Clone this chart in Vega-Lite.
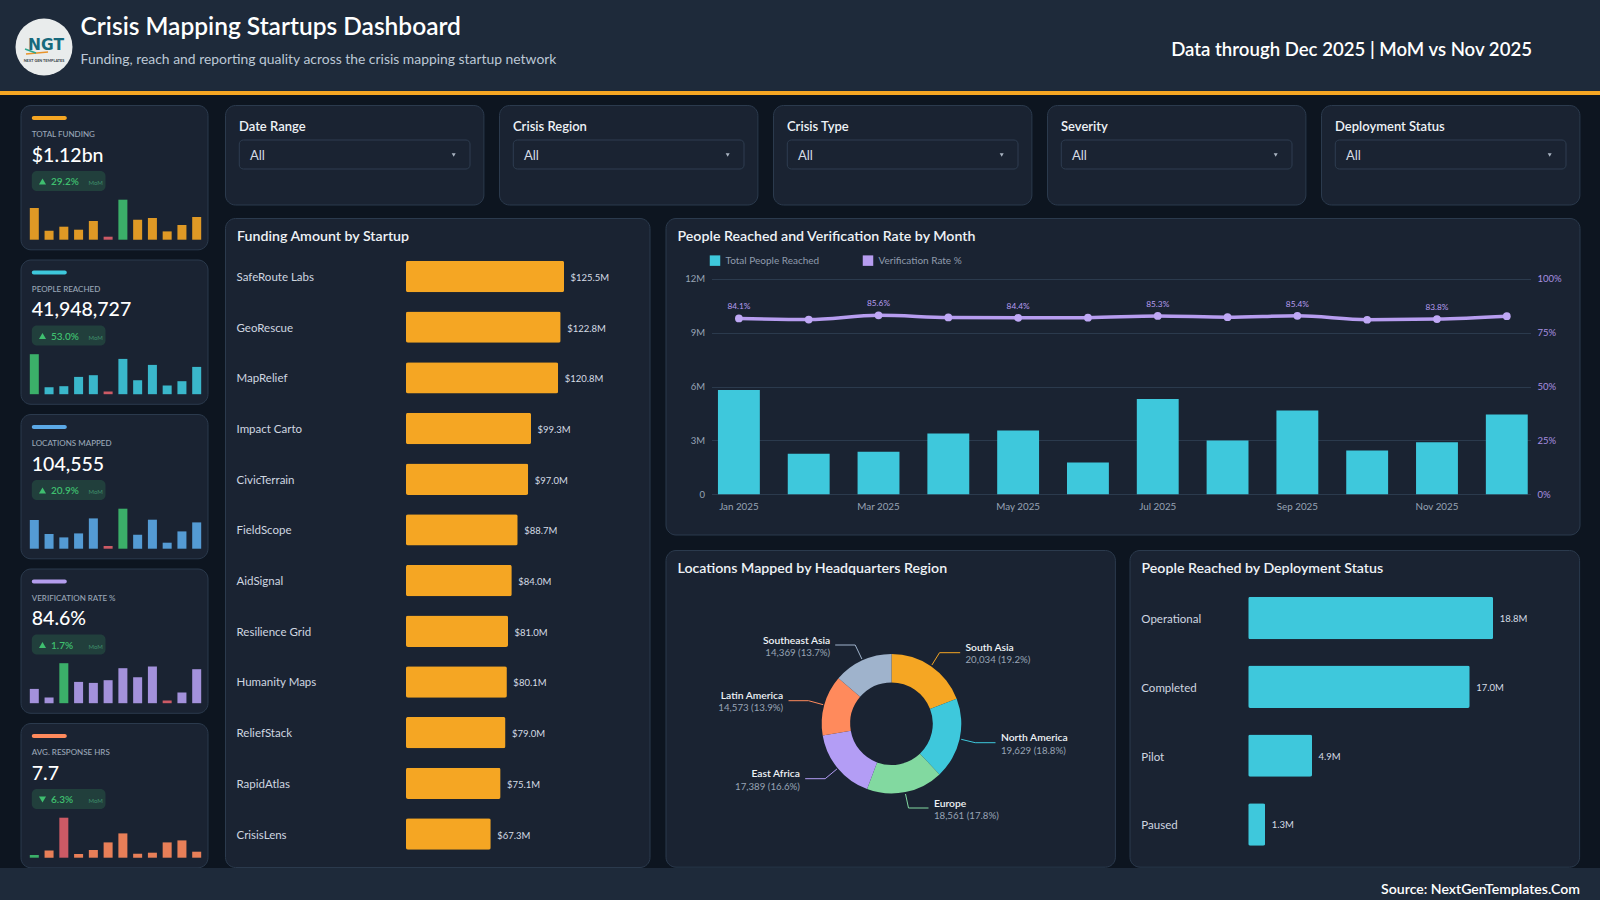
{"$schema":"https://vega.github.io/schema/vega-lite/v6.json","background":"#0d1520","padding":0,"spacing":0,"resolve":{"scale":{"color":"independent"}},
"config":{"font":"Lato","view":{"stroke":null},"title":{"anchor":"start","frame":"group","baseline":"middle","color":"#eef2f6","fontWeight":600,"fontSize":14.2},"axis":{"labelFont":"Lato"}},
"vconcat":[
{"width":1600,"height":91,"view":{"fill":"#1e2a3a"},
 "title":{"text":"Crisis Mapping Startups Dashboard","subtitle":"Funding, reach and reporting quality across the crisis mapping startup network","offset":-68,"dx":80.6,"fontSize":24.5,"color":"#ffffff","subtitleColor":"#bcc8d6","subtitleFontSize":13.9,"subtitleFont":"Lato","subtitlePadding":13},
 "data":{"values":[{"asOf":"Data through Dec 2025 | MoM vs Nov 2025","logo":"NGT","logoSub":"NEXT GEN TEMPLATES"}]},
 "layer":[
  {"mark":{"type":"point","filled":true,"opacity":1,"color":"#e9ecec","size":3249},"encoding":{"x":{"datum":44,"type":"quantitative","scale":{"domain":[0,1600],"range":[0,1600],"nice":false},"axis":null},"y":{"datum":47,"type":"quantitative","scale":{"domain":[0,91],"range":[0,91],"nice":false},"axis":null}}},
  {"mark":{"type":"rule","color":"#e8932a","strokeWidth":1.5},"encoding":{"x":{"datum":26},"x2":{"datum":48},"y":{"datum":54},"y2":{"datum":52}}},
  {"mark":{"type":"rule","color":"#2fa58c","strokeWidth":1.5},"encoding":{"x":{"datum":25},"x2":{"datum":36},"y":{"datum":49},"y2":{"datum":53}}},
  {"mark":{"type":"text","font":"DejaVu Sans","fontWeight":"bold","fontSize":15.5,"color":"#17697c","align":"center","baseline":"middle"},"encoding":{"x":{"datum":46},"y":{"datum":45},"text":{"field":"logo"}}},
  {"mark":{"type":"text","fontWeight":"bold","fontSize":3.8,"color":"#333d45","align":"center","baseline":"middle"},"encoding":{"x":{"datum":44},"y":{"datum":60.5},"text":{"field":"logoSub"}}},
  {"mark":{"type":"text","fontWeight":600,"fontSize":18.6,"color":"#ffffff","align":"right","baseline":"middle"},"encoding":{"x":{"datum":1532},"y":{"datum":50},"text":{"field":"asOf"}}}
 ]},
{"width":1600,"height":4,"view":{"fill":"#f5a623"},"data":{"values":[{}]},"mark":{"type":"point","opacity":0,"size":0}},
{"width":1600,"height":9,"data":{"values":[{}]},"mark":{"type":"point","opacity":0,"size":0}},
{"spacing":15.5,"resolve":{"scale":{"color":"independent"}},"hconcat":[
 {"width":3.5,"height":10,"data":{"values":[{}]},"mark":{"type":"point","opacity":0,"size":0}},
 {"bounds":"flush","spacing":9.5,"resolve":{"scale":{"color":"independent"}},"vconcat":[
  {"width":187,"height":144.3,"view":{"fill":"#1a2332","stroke":"#2b3a4d","cornerRadius":10},
   "title":{"text":"TOTAL FUNDING","offset":-34,"dx":11.3,"fontSize":8,"fontWeight":500,"color":"#9aa7b8"},
   "layer":[
    {"data":{"values":[{"month":"Jan","value":31.7,"flag":"normal"},{"month":"Feb","value":9,"flag":"normal"},{"month":"Mar","value":13,"flag":"normal"},{"month":"Apr","value":10,"flag":"normal"},{"month":"May","value":18.7,"flag":"normal"},{"month":"Jun","value":3,"flag":"low"},{"month":"Jul","value":40,"flag":"high"},{"month":"Aug","value":20,"flag":"normal"},{"month":"Sep","value":21.7,"flag":"normal"},{"month":"Oct","value":8.3,"flag":"normal"},{"month":"Nov","value":14.7,"flag":"normal"},{"month":"Dec","value":22.7,"flag":"normal"}]},
     "mark":{"type":"bar","opacity":0.9},"encoding":{"x":{"field":"month","type":"nominal","sort":null,"axis":null,"scale":{"range":[9.3,180.7],"paddingInner":0.39,"paddingOuter":0}},"y":{"field":"value","type":"quantitative","axis":null,"scale":{"domain":[0,40],"range":[134.7,94.7],"nice":false}},"color":{"field":"flag","type":"nominal","legend":null,"scale":{"domain":["normal","high","low"],"range":["#f5a623","#3fbf6f","#e0606a"]}}}},
    {"data":{"values":[{"value":"$1.12bn","delta":"29.2%","mom":"MoM"}]},"layer":[
     {"mark":{"type":"rect","color":"#f5a623","cornerRadius":2},"encoding":{"x":{"datum":11.3,"type":"quantitative","axis":null,"scale":{"domain":[0,187],"range":[0,187],"nice":false}},"x2":{"datum":46.3},"y":{"datum":11,"type":"quantitative","axis":null,"scale":{"domain":[0,144.3],"range":[0,144.3],"nice":false}},"y2":{"datum":15}}},
     {"mark":{"type":"rect","color":"#213f3c","cornerRadius":5},"encoding":{"x":{"datum":11.3},"x2":{"datum":85},"y":{"datum":66},"y2":{"datum":86}}},
     {"mark":{"type":"point","shape":"triangle-up","filled":true,"opacity":1,"color":"#3fbf6f","size":50},"encoding":{"x":{"datum":22},"y":{"datum":76.5}}},
     {"mark":{"type":"text","fontSize":19.5,"fontWeight":500,"color":"#ffffff","align":"left","baseline":"middle"},"encoding":{"x":{"datum":11.3},"y":{"datum":50.7},"text":{"field":"value"}}},
     {"mark":{"type":"text","fontSize":10,"fontWeight":600,"color":"#3fbf6f","align":"left","baseline":"middle"},"encoding":{"x":{"datum":30.5},"y":{"datum":77},"text":{"field":"delta"}}},
     {"mark":{"type":"text","fontSize":6,"color":"#3f8f6b","align":"left","baseline":"middle"},"encoding":{"x":{"datum":68},"y":{"datum":78},"text":{"field":"mom"}}}
    ]}
   ],"resolve":{"scale":{"x":"independent","y":"independent"}}},
  {"width":187,"height":144.3,"view":{"fill":"#1a2332","stroke":"#2b3a4d","cornerRadius":10},
   "title":{"text":"PEOPLE REACHED","offset":-34,"dx":11.3,"fontSize":8,"fontWeight":500,"color":"#9aa7b8"},
   "layer":[
    {"data":{"values":[{"month":"Jan","value":40,"flag":"high"},{"month":"Feb","value":7,"flag":"normal"},{"month":"Mar","value":8,"flag":"normal"},{"month":"Apr","value":17.3,"flag":"normal"},{"month":"May","value":19,"flag":"normal"},{"month":"Jun","value":2.7,"flag":"low"},{"month":"Jul","value":35.3,"flag":"normal"},{"month":"Aug","value":14,"flag":"normal"},{"month":"Sep","value":29.3,"flag":"normal"},{"month":"Oct","value":8.7,"flag":"normal"},{"month":"Nov","value":13,"flag":"normal"},{"month":"Dec","value":27.3,"flag":"normal"}]},
     "mark":{"type":"bar","opacity":0.9},"encoding":{"x":{"field":"month","type":"nominal","sort":null,"axis":null,"scale":{"range":[9.3,180.7],"paddingInner":0.39,"paddingOuter":0}},"y":{"field":"value","type":"quantitative","axis":null,"scale":{"domain":[0,40],"range":[134.7,94.7],"nice":false}},"color":{"field":"flag","type":"nominal","legend":null,"scale":{"domain":["normal","high","low"],"range":["#3ec8dc","#3fbf6f","#e0606a"]}}}},
    {"data":{"values":[{"value":"41,948,727","delta":"53.0%","mom":"MoM"}]},"layer":[
     {"mark":{"type":"rect","color":"#3ec8dc","cornerRadius":2},"encoding":{"x":{"datum":11.3,"type":"quantitative","axis":null,"scale":{"domain":[0,187],"range":[0,187],"nice":false}},"x2":{"datum":46.3},"y":{"datum":11,"type":"quantitative","axis":null,"scale":{"domain":[0,144.3],"range":[0,144.3],"nice":false}},"y2":{"datum":15}}},
     {"mark":{"type":"rect","color":"#213f3c","cornerRadius":5},"encoding":{"x":{"datum":11.3},"x2":{"datum":85},"y":{"datum":66},"y2":{"datum":86}}},
     {"mark":{"type":"point","shape":"triangle-up","filled":true,"opacity":1,"color":"#3fbf6f","size":50},"encoding":{"x":{"datum":22},"y":{"datum":76.5}}},
     {"mark":{"type":"text","fontSize":19.5,"fontWeight":500,"color":"#ffffff","align":"left","baseline":"middle"},"encoding":{"x":{"datum":11.3},"y":{"datum":50.7},"text":{"field":"value"}}},
     {"mark":{"type":"text","fontSize":10,"fontWeight":600,"color":"#3fbf6f","align":"left","baseline":"middle"},"encoding":{"x":{"datum":30.5},"y":{"datum":77},"text":{"field":"delta"}}},
     {"mark":{"type":"text","fontSize":6,"color":"#3f8f6b","align":"left","baseline":"middle"},"encoding":{"x":{"datum":68},"y":{"datum":78},"text":{"field":"mom"}}}
    ]}
   ],"resolve":{"scale":{"x":"independent","y":"independent"}}},
  {"width":187,"height":144.3,"view":{"fill":"#1a2332","stroke":"#2b3a4d","cornerRadius":10},
   "title":{"text":"LOCATIONS MAPPED","offset":-34,"dx":11.3,"fontSize":8,"fontWeight":500,"color":"#9aa7b8"},
   "layer":[
    {"data":{"values":[{"month":"Jan","value":28.7,"flag":"normal"},{"month":"Feb","value":14.7,"flag":"normal"},{"month":"Mar","value":11.3,"flag":"normal"},{"month":"Apr","value":15.3,"flag":"normal"},{"month":"May","value":30.3,"flag":"normal"},{"month":"Jun","value":2.7,"flag":"low"},{"month":"Jul","value":40,"flag":"high"},{"month":"Aug","value":14,"flag":"normal"},{"month":"Sep","value":29,"flag":"normal"},{"month":"Oct","value":6,"flag":"normal"},{"month":"Nov","value":17.3,"flag":"normal"},{"month":"Dec","value":26.3,"flag":"normal"}]},
     "mark":{"type":"bar","opacity":0.9},"encoding":{"x":{"field":"month","type":"nominal","sort":null,"axis":null,"scale":{"range":[9.3,180.7],"paddingInner":0.39,"paddingOuter":0}},"y":{"field":"value","type":"quantitative","axis":null,"scale":{"domain":[0,40],"range":[134.7,94.7],"nice":false}},"color":{"field":"flag","type":"nominal","legend":null,"scale":{"domain":["normal","high","low"],"range":["#5ba8e6","#3fbf6f","#e0606a"]}}}},
    {"data":{"values":[{"value":"104,555","delta":"20.9%","mom":"MoM"}]},"layer":[
     {"mark":{"type":"rect","color":"#5ba8e6","cornerRadius":2},"encoding":{"x":{"datum":11.3,"type":"quantitative","axis":null,"scale":{"domain":[0,187],"range":[0,187],"nice":false}},"x2":{"datum":46.3},"y":{"datum":11,"type":"quantitative","axis":null,"scale":{"domain":[0,144.3],"range":[0,144.3],"nice":false}},"y2":{"datum":15}}},
     {"mark":{"type":"rect","color":"#213f3c","cornerRadius":5},"encoding":{"x":{"datum":11.3},"x2":{"datum":85},"y":{"datum":66},"y2":{"datum":86}}},
     {"mark":{"type":"point","shape":"triangle-up","filled":true,"opacity":1,"color":"#3fbf6f","size":50},"encoding":{"x":{"datum":22},"y":{"datum":76.5}}},
     {"mark":{"type":"text","fontSize":19.5,"fontWeight":500,"color":"#ffffff","align":"left","baseline":"middle"},"encoding":{"x":{"datum":11.3},"y":{"datum":50.7},"text":{"field":"value"}}},
     {"mark":{"type":"text","fontSize":10,"fontWeight":600,"color":"#3fbf6f","align":"left","baseline":"middle"},"encoding":{"x":{"datum":30.5},"y":{"datum":77},"text":{"field":"delta"}}},
     {"mark":{"type":"text","fontSize":6,"color":"#3f8f6b","align":"left","baseline":"middle"},"encoding":{"x":{"datum":68},"y":{"datum":78},"text":{"field":"mom"}}}
    ]}
   ],"resolve":{"scale":{"x":"independent","y":"independent"}}},
  {"width":187,"height":144.3,"view":{"fill":"#1a2332","stroke":"#2b3a4d","cornerRadius":10},
   "title":{"text":"VERIFICATION RATE %","offset":-34,"dx":11.3,"fontSize":8,"fontWeight":500,"color":"#9aa7b8"},
   "layer":[
    {"data":{"values":[{"month":"Jan","value":14.3,"flag":"normal"},{"month":"Feb","value":5.7,"flag":"normal"},{"month":"Mar","value":40,"flag":"high"},{"month":"Apr","value":21.3,"flag":"normal"},{"month":"May","value":20.3,"flag":"normal"},{"month":"Jun","value":23,"flag":"normal"},{"month":"Jul","value":35,"flag":"normal"},{"month":"Aug","value":26,"flag":"normal"},{"month":"Sep","value":36.7,"flag":"normal"},{"month":"Oct","value":2.7,"flag":"low"},{"month":"Nov","value":10.7,"flag":"normal"},{"month":"Dec","value":34,"flag":"normal"}]},
     "mark":{"type":"bar","opacity":0.9},"encoding":{"x":{"field":"month","type":"nominal","sort":null,"axis":null,"scale":{"range":[9.3,180.7],"paddingInner":0.39,"paddingOuter":0}},"y":{"field":"value","type":"quantitative","axis":null,"scale":{"domain":[0,40],"range":[134.7,94.7],"nice":false}},"color":{"field":"flag","type":"nominal","legend":null,"scale":{"domain":["normal","high","low"],"range":["#b39ded","#3fbf6f","#e0606a"]}}}},
    {"data":{"values":[{"value":"84.6%","delta":"1.7%","mom":"MoM"}]},"layer":[
     {"mark":{"type":"rect","color":"#b39ded","cornerRadius":2},"encoding":{"x":{"datum":11.3,"type":"quantitative","axis":null,"scale":{"domain":[0,187],"range":[0,187],"nice":false}},"x2":{"datum":46.3},"y":{"datum":11,"type":"quantitative","axis":null,"scale":{"domain":[0,144.3],"range":[0,144.3],"nice":false}},"y2":{"datum":15}}},
     {"mark":{"type":"rect","color":"#213f3c","cornerRadius":5},"encoding":{"x":{"datum":11.3},"x2":{"datum":85},"y":{"datum":66},"y2":{"datum":86}}},
     {"mark":{"type":"point","shape":"triangle-up","filled":true,"opacity":1,"color":"#3fbf6f","size":50},"encoding":{"x":{"datum":22},"y":{"datum":76.5}}},
     {"mark":{"type":"text","fontSize":19.5,"fontWeight":500,"color":"#ffffff","align":"left","baseline":"middle"},"encoding":{"x":{"datum":11.3},"y":{"datum":50.7},"text":{"field":"value"}}},
     {"mark":{"type":"text","fontSize":10,"fontWeight":600,"color":"#3fbf6f","align":"left","baseline":"middle"},"encoding":{"x":{"datum":30.5},"y":{"datum":77},"text":{"field":"delta"}}},
     {"mark":{"type":"text","fontSize":6,"color":"#3f8f6b","align":"left","baseline":"middle"},"encoding":{"x":{"datum":68},"y":{"datum":78},"text":{"field":"mom"}}}
    ]}
   ],"resolve":{"scale":{"x":"independent","y":"independent"}}},
  {"width":187,"height":144.3,"view":{"fill":"#1a2332","stroke":"#2b3a4d","cornerRadius":10},
   "title":{"text":"AVG. RESPONSE HRS","offset":-34,"dx":11.3,"fontSize":8,"fontWeight":500,"color":"#9aa7b8"},
   "layer":[
    {"data":{"values":[{"month":"Jan","value":2.7,"flag":"high"},{"month":"Feb","value":7.3,"flag":"normal"},{"month":"Mar","value":40,"flag":"low"},{"month":"Apr","value":3.7,"flag":"normal"},{"month":"May","value":7.7,"flag":"normal"},{"month":"Jun","value":15.3,"flag":"normal"},{"month":"Jul","value":24.3,"flag":"normal"},{"month":"Aug","value":4,"flag":"normal"},{"month":"Sep","value":5,"flag":"normal"},{"month":"Oct","value":15.3,"flag":"normal"},{"month":"Nov","value":17.3,"flag":"normal"},{"month":"Dec","value":6,"flag":"normal"}]},
     "mark":{"type":"bar","opacity":0.9},"encoding":{"x":{"field":"month","type":"nominal","sort":null,"axis":null,"scale":{"range":[9.3,180.7],"paddingInner":0.39,"paddingOuter":0}},"y":{"field":"value","type":"quantitative","axis":null,"scale":{"domain":[0,40],"range":[134.7,94.7],"nice":false}},"color":{"field":"flag","type":"nominal","legend":null,"scale":{"domain":["normal","high","low"],"range":["#ff8a5c","#3fbf6f","#e0606a"]}}}},
    {"data":{"values":[{"value":"7.7","delta":"6.3%","mom":"MoM"}]},"layer":[
     {"mark":{"type":"rect","color":"#ff8a5c","cornerRadius":2},"encoding":{"x":{"datum":11.3,"type":"quantitative","axis":null,"scale":{"domain":[0,187],"range":[0,187],"nice":false}},"x2":{"datum":46.3},"y":{"datum":11,"type":"quantitative","axis":null,"scale":{"domain":[0,144.3],"range":[0,144.3],"nice":false}},"y2":{"datum":15}}},
     {"mark":{"type":"rect","color":"#213f3c","cornerRadius":5},"encoding":{"x":{"datum":11.3},"x2":{"datum":85},"y":{"datum":66},"y2":{"datum":86}}},
     {"mark":{"type":"point","shape":"triangle-down","filled":true,"opacity":1,"color":"#3fbf6f","size":50},"encoding":{"x":{"datum":22},"y":{"datum":76.5}}},
     {"mark":{"type":"text","fontSize":19.5,"fontWeight":500,"color":"#ffffff","align":"left","baseline":"middle"},"encoding":{"x":{"datum":11.3},"y":{"datum":50.7},"text":{"field":"value"}}},
     {"mark":{"type":"text","fontSize":10,"fontWeight":600,"color":"#3fbf6f","align":"left","baseline":"middle"},"encoding":{"x":{"datum":30.5},"y":{"datum":77},"text":{"field":"delta"}}},
     {"mark":{"type":"text","fontSize":6,"color":"#3f8f6b","align":"left","baseline":"middle"},"encoding":{"x":{"datum":68},"y":{"datum":78},"text":{"field":"mom"}}}
    ]}
   ],"resolve":{"scale":{"x":"independent","y":"independent"}}}
 ]},
 {"spacing":12,"resolve":{"scale":{"color":"independent"}},"vconcat":[
  {"bounds":"flush","spacing":15,"hconcat":[
   {"width":258.4,"height":99.5,"view":{"fill":"#1a2332","stroke":"#2b3a4d","cornerRadius":10},"title":{"text":"Date Range","offset":-29,"dx":14,"fontSize":13},"data":{"values":[{"selected":"All"}]},"layer":[
    {"mark":{"type":"rect","fill":"#1a2332","stroke":"#2e3d50","cornerRadius":4},"encoding":{"x":{"datum":14.3,"type":"quantitative","axis":null,"scale":{"domain":[0,258.4],"range":[0,258.4],"nice":false}},"x2":{"datum":245},"y":{"datum":35,"type":"quantitative","axis":null,"scale":{"domain":[0,99.5],"range":[0,99.5],"nice":false}},"y2":{"datum":64}}},
    {"mark":{"type":"text","fontSize":13,"color":"#d5dce5","align":"left","baseline":"middle"},"encoding":{"x":{"datum":25},"y":{"datum":51},"text":{"field":"selected"}}},
    {"mark":{"type":"point","shape":"triangle-down","filled":true,"opacity":1,"color":"#aab4c2","size":16},"encoding":{"x":{"datum":228.7},"y":{"datum":50}}}]},
   {"width":258.4,"height":99.5,"view":{"fill":"#1a2332","stroke":"#2b3a4d","cornerRadius":10},"title":{"text":"Crisis Region","offset":-29,"dx":14,"fontSize":13},"data":{"values":[{"selected":"All"}]},"layer":[
    {"mark":{"type":"rect","fill":"#1a2332","stroke":"#2e3d50","cornerRadius":4},"encoding":{"x":{"datum":14.3,"type":"quantitative","axis":null,"scale":{"domain":[0,258.4],"range":[0,258.4],"nice":false}},"x2":{"datum":245},"y":{"datum":35,"type":"quantitative","axis":null,"scale":{"domain":[0,99.5],"range":[0,99.5],"nice":false}},"y2":{"datum":64}}},
    {"mark":{"type":"text","fontSize":13,"color":"#d5dce5","align":"left","baseline":"middle"},"encoding":{"x":{"datum":25},"y":{"datum":51},"text":{"field":"selected"}}},
    {"mark":{"type":"point","shape":"triangle-down","filled":true,"opacity":1,"color":"#aab4c2","size":16},"encoding":{"x":{"datum":228.7},"y":{"datum":50}}}]},
   {"width":258.4,"height":99.5,"view":{"fill":"#1a2332","stroke":"#2b3a4d","cornerRadius":10},"title":{"text":"Crisis Type","offset":-29,"dx":14,"fontSize":13},"data":{"values":[{"selected":"All"}]},"layer":[
    {"mark":{"type":"rect","fill":"#1a2332","stroke":"#2e3d50","cornerRadius":4},"encoding":{"x":{"datum":14.3,"type":"quantitative","axis":null,"scale":{"domain":[0,258.4],"range":[0,258.4],"nice":false}},"x2":{"datum":245},"y":{"datum":35,"type":"quantitative","axis":null,"scale":{"domain":[0,99.5],"range":[0,99.5],"nice":false}},"y2":{"datum":64}}},
    {"mark":{"type":"text","fontSize":13,"color":"#d5dce5","align":"left","baseline":"middle"},"encoding":{"x":{"datum":25},"y":{"datum":51},"text":{"field":"selected"}}},
    {"mark":{"type":"point","shape":"triangle-down","filled":true,"opacity":1,"color":"#aab4c2","size":16},"encoding":{"x":{"datum":228.7},"y":{"datum":50}}}]},
   {"width":258.4,"height":99.5,"view":{"fill":"#1a2332","stroke":"#2b3a4d","cornerRadius":10},"title":{"text":"Severity","offset":-29,"dx":14,"fontSize":13},"data":{"values":[{"selected":"All"}]},"layer":[
    {"mark":{"type":"rect","fill":"#1a2332","stroke":"#2e3d50","cornerRadius":4},"encoding":{"x":{"datum":14.3,"type":"quantitative","axis":null,"scale":{"domain":[0,258.4],"range":[0,258.4],"nice":false}},"x2":{"datum":245},"y":{"datum":35,"type":"quantitative","axis":null,"scale":{"domain":[0,99.5],"range":[0,99.5],"nice":false}},"y2":{"datum":64}}},
    {"mark":{"type":"text","fontSize":13,"color":"#d5dce5","align":"left","baseline":"middle"},"encoding":{"x":{"datum":25},"y":{"datum":51},"text":{"field":"selected"}}},
    {"mark":{"type":"point","shape":"triangle-down","filled":true,"opacity":1,"color":"#aab4c2","size":16},"encoding":{"x":{"datum":228.7},"y":{"datum":50}}}]},
   {"width":258.4,"height":99.5,"view":{"fill":"#1a2332","stroke":"#2b3a4d","cornerRadius":10},"title":{"text":"Deployment Status","offset":-29,"dx":14,"fontSize":13},"data":{"values":[{"selected":"All"}]},"layer":[
    {"mark":{"type":"rect","fill":"#1a2332","stroke":"#2e3d50","cornerRadius":4},"encoding":{"x":{"datum":14.3,"type":"quantitative","axis":null,"scale":{"domain":[0,258.4],"range":[0,258.4],"nice":false}},"x2":{"datum":245},"y":{"datum":35,"type":"quantitative","axis":null,"scale":{"domain":[0,99.5],"range":[0,99.5],"nice":false}},"y2":{"datum":64}}},
    {"mark":{"type":"text","fontSize":13,"color":"#d5dce5","align":"left","baseline":"middle"},"encoding":{"x":{"datum":25},"y":{"datum":51},"text":{"field":"selected"}}},
    {"mark":{"type":"point","shape":"triangle-down","filled":true,"opacity":1,"color":"#aab4c2","size":16},"encoding":{"x":{"datum":228.7},"y":{"datum":50}}}]}
  ]},
  {"spacing":14.5,"resolve":{"scale":{"color":"independent"}},"hconcat":[
   {"width":424.5,"height":649,"view":{"fill":"#1a2332","stroke":"#2b3a4d","cornerRadius":10},"title":{"text":"Funding Amount by Startup","offset":-26.5,"dx":12},
    "data":{"values":[{"startup":"SafeRoute Labs","funding":125.5,"label":"$125.5M"},{"startup":"GeoRescue","funding":122.8,"label":"$122.8M"},{"startup":"MapRelief","funding":120.8,"label":"$120.8M"},{"startup":"Impact Carto","funding":99.3,"label":"$99.3M"},{"startup":"CivicTerrain","funding":97.0,"label":"$97.0M"},{"startup":"FieldScope","funding":88.7,"label":"$88.7M"},{"startup":"AidSignal","funding":84.0,"label":"$84.0M"},{"startup":"Resilience Grid","funding":81.0,"label":"$81.0M"},{"startup":"Humanity Maps","funding":80.1,"label":"$80.1M"},{"startup":"ReliefStack","funding":79.0,"label":"$79.0M"},{"startup":"RapidAtlas","funding":75.1,"label":"$75.1M"},{"startup":"CrisisLens","funding":67.3,"label":"$67.3M"}]},
    "encoding":{"y":{"field":"startup","type":"nominal","sort":null,"title":null,"scale":{"range":[42.8,631.7],"paddingInner":0.381,"paddingOuter":0},"axis":{"orient":"left","offset":-181,"domain":false,"ticks":false,"tickSize":0,"labelAlign":"left","labelPadding":170,"labelOffset":1.5,"labelFontSize":11.5,"labelColor":"#cfd6e0","labelBound":false,"labelOverlap":false,"grid":false}},"x":{"field":"funding","type":"quantitative","axis":null,"scale":{"domain":[0,150],"range":[181,369.9],"nice":false}}},
    "layer":[{"mark":{"type":"bar","color":"#f5a623","cornerRadius":2}},{"mark":{"type":"text","align":"left","baseline":"middle","dx":6.5,"dy":1.5,"fontSize":9.5,"color":"#d5dce5"},"encoding":{"text":{"field":"label"}}}]},
   {"spacing":14,"resolve":{"scale":{"color":"independent"}},"vconcat":[
    {"width":914,"height":316.5,"view":{"fill":"#1a2332","stroke":"#2b3a4d","cornerRadius":10},"title":{"text":"People Reached and Verification Rate by Month","offset":-26.5,"dx":12},
     "data":{"values":[{"month":"Jan 2025","people":5810000,"rate":84.1,"rateLabel":"84.1%"},{"month":"Feb 2025","people":2250000,"rate":83.6,"rateLabel":""},{"month":"Mar 2025","people":2360000,"rate":85.6,"rateLabel":"85.6%"},{"month":"Apr 2025","people":3380000,"rate":84.6,"rateLabel":""},{"month":"May 2025","people":3550000,"rate":84.4,"rateLabel":"84.4%"},{"month":"Jun 2025","people":1760000,"rate":84.5,"rateLabel":""},{"month":"Jul 2025","people":5310000,"rate":85.3,"rateLabel":"85.3%"},{"month":"Aug 2025","people":2990000,"rate":84.7,"rateLabel":""},{"month":"Sep 2025","people":4660000,"rate":85.4,"rateLabel":"85.4%"},{"month":"Oct 2025","people":2430000,"rate":83.5,"rateLabel":""},{"month":"Nov 2025","people":2900000,"rate":83.8,"rateLabel":"83.8%"},{"month":"Dec 2025","people":4440000,"rate":85.2,"rateLabel":""}]},
     "encoding":{"x":{"field":"month","type":"nominal","sort":null,"title":null,"scale":{"range":[46,865],"paddingInner":0.4,"paddingOuter":0.066,"align":0.7},"axis":{"orient":"bottom","offset":-40.3,"values":["Jan 2025","Mar 2025","May 2025","Jul 2025","Sep 2025","Nov 2025"],"labelAngle":0,"domain":false,"ticks":false,"tickSize":0,"labelPadding":7,"labelFontSize":9.8,"labelColor":"#98a4b5","labelBound":false,"labelOverlap":false,"grid":false}}},
     "layer":[
      {"mark":{"type":"bar"},"encoding":{"y":{"field":"people","type":"quantitative","title":null,"scale":{"domain":[0,12000000],"range":[276.2,60.8],"nice":false},"axis":{"orient":"left","offset":-46,"values":[0,3000000,6000000,9000000,12000000],"labelExpr":"datum.value==0?'0':(datum.value/1000000)+'M'","domain":false,"ticks":false,"tickSize":0,"labelPadding":7,"labelFontSize":9.5,"labelColor":"#98a4b5","labelBound":false,"grid":true,"gridColor":"#2b3a4d"}},"color":{"datum":"Total People Reached","scale":{"domain":["Total People Reached","Verification Rate %"],"range":["#3ec8dc","#b79df0"]},"legend":{"orient":"none","legendX":44,"legendY":37,"direction":"horizontal","title":null,"symbolType":"square","symbolSize":110,"symbolStrokeWidth":0,"labelFontSize":10,"labelColor":"#8f9bad","columnPadding":43,"labelOffset":5}}}},
      {"encoding":{"y":{"field":"rate","type":"quantitative","title":null,"scale":{"domain":[0,103.1],"range":[276.2,60.8],"nice":false},"axis":{"orient":"right","offset":-49,"values":[0,25.775,51.55,77.325,103.1],"labelExpr":"format(datum.value/1.031,'.0f')+'%'","domain":false,"ticks":false,"tickSize":0,"labelPadding":6.5,"labelFontSize":9.5,"labelColor":"#a890e0","labelBound":false,"grid":false}}},
       "layer":[
        {"mark":{"type":"line","stroke":"#b79df0","strokeWidth":3.5,"interpolate":"monotone"}},
        {"mark":{"type":"point","filled":true,"opacity":1,"color":"#bfa8f5","size":60}},
        {"mark":{"type":"text","dy":-11,"fontSize":8.3,"color":"#b79df0","align":"center","baseline":"middle"},"encoding":{"text":{"field":"rateLabel"}}}
       ]}
     ],"resolve":{"scale":{"y":"independent"},"axis":{"y":"independent"}}},
    {"bounds":"flush","spacing":14,"resolve":{"scale":{"color":"independent"}},"hconcat":[
     {"width":449.4,"height":316.7,"view":{"fill":"#1a2332","stroke":"#2b3a4d","cornerRadius":10},"title":{"text":"Locations Mapped by Headquarters Region","offset":-26.5,"dx":12},
      "data":{"values":[{"region":"South Asia","locations":20034,"detail":"20,034 (19.2%)"},{"region":"North America","locations":19629,"detail":"19,629 (18.8%)"},{"region":"Europe","locations":18561,"detail":"18,561 (17.8%)"},{"region":"East Africa","locations":17389,"detail":"17,389 (16.6%)"},{"region":"Latin America","locations":14573,"detail":"14,573 (13.9%)"},{"region":"Southeast Asia","locations":14369,"detail":"14,369 (13.7%)"}]},
      "layer":[
       {"mark":{"type":"arc","innerRadius":41.3,"outerRadius":69.8},"encoding":{"x":{"datum":226,"type":"quantitative","axis":null,"scale":{"domain":[0,449.4],"range":[0,449.4],"nice":false}},"y":{"datum":173.7,"type":"quantitative","axis":null,"scale":{"domain":[0,316.7],"range":[0,316.7],"nice":false}},"theta":{"field":"locations","type":"quantitative","stack":true},"order":{"field":"locations","sort":"descending"},"color":{"field":"region","type":"nominal","sort":null,"legend":null,"scale":{"domain":["South Asia","North America","Europe","East Africa","Latin America","Southeast Asia"],"range":["#f5a623","#3ec8dc","#82d9a0","#b39df5","#ff8a5c","#9fb3cc"]}}}},
       {"data":{"values":[{}]},"layer":[
        {"mark":{"type":"rule","color":"#f5a623"},"encoding":{"x":{"datum":266.4},"x2":{"datum":274},"y":{"datum":115},"y2":{"datum":102.7}}},
        {"mark":{"type":"rule","color":"#f5a623"},"encoding":{"x":{"datum":274},"x2":{"datum":294.7},"y":{"datum":102.7},"y2":{"datum":102.7}}},
        {"mark":{"type":"rule","color":"#3ec8dc"},"encoding":{"x":{"datum":295.7},"x2":{"datum":309.7},"y":{"datum":189.3},"y2":{"datum":192.7}}},
        {"mark":{"type":"rule","color":"#3ec8dc"},"encoding":{"x":{"datum":309.7},"x2":{"datum":330},"y":{"datum":192.7},"y2":{"datum":192.7}}},
        {"mark":{"type":"rule","color":"#82d9a0"},"encoding":{"x":{"datum":240},"x2":{"datum":243},"y":{"datum":244},"y2":{"datum":258}}},
        {"mark":{"type":"rule","color":"#82d9a0"},"encoding":{"x":{"datum":243},"x2":{"datum":263},"y":{"datum":258},"y2":{"datum":258}}},
        {"mark":{"type":"rule","color":"#b39df5"},"encoding":{"x":{"datum":171.4},"x2":{"datum":159.7},"y":{"datum":219},"y2":{"datum":228.7}}},
        {"mark":{"type":"rule","color":"#b39df5"},"encoding":{"x":{"datum":159.7},"x2":{"datum":139.7},"y":{"datum":228.7},"y2":{"datum":228.7}}},
        {"mark":{"type":"rule","color":"#ff8a5c"},"encoding":{"x":{"datum":157.7},"x2":{"datum":143},"y":{"datum":154.7},"y2":{"datum":150.7}}},
        {"mark":{"type":"rule","color":"#ff8a5c"},"encoding":{"x":{"datum":143},"x2":{"datum":123},"y":{"datum":150.7},"y2":{"datum":150.7}}},
        {"mark":{"type":"rule","color":"#9fb3cc"},"encoding":{"x":{"datum":196.4},"x2":{"datum":189.7},"y":{"datum":109},"y2":{"datum":95}}},
        {"mark":{"type":"rule","color":"#9fb3cc"},"encoding":{"x":{"datum":189.7},"x2":{"datum":169.7},"y":{"datum":95},"y2":{"datum":95}}}
       ]},
       {"transform":[{"filter":"datum.region=='South Asia'"}],"layer":[
        {"mark":{"type":"text","align":"left","baseline":"middle","fontSize":10.3,"fontWeight":600,"color":"#eef2f6"},"encoding":{"x":{"datum":300},"y":{"datum":97.7},"text":{"field":"region"}}},
        {"mark":{"type":"text","align":"left","baseline":"middle","fontSize":9.7,"color":"#98a4b5"},"encoding":{"x":{"datum":300},"y":{"datum":110.3},"text":{"field":"detail"}}}]},
       {"transform":[{"filter":"datum.region=='North America'"}],"layer":[
        {"mark":{"type":"text","align":"left","baseline":"middle","fontSize":10.3,"fontWeight":600,"color":"#eef2f6"},"encoding":{"x":{"datum":335.4},"y":{"datum":188.3},"text":{"field":"region"}}},
        {"mark":{"type":"text","align":"left","baseline":"middle","fontSize":9.7,"color":"#98a4b5"},"encoding":{"x":{"datum":335.4},"y":{"datum":200.7},"text":{"field":"detail"}}}]},
       {"transform":[{"filter":"datum.region=='Europe'"}],"layer":[
        {"mark":{"type":"text","align":"left","baseline":"middle","fontSize":10.3,"fontWeight":600,"color":"#eef2f6"},"encoding":{"x":{"datum":268.4},"y":{"datum":253.7},"text":{"field":"region"}}},
        {"mark":{"type":"text","align":"left","baseline":"middle","fontSize":9.7,"color":"#98a4b5"},"encoding":{"x":{"datum":268.4},"y":{"datum":266},"text":{"field":"detail"}}}]},
       {"transform":[{"filter":"datum.region=='East Africa'"}],"layer":[
        {"mark":{"type":"text","align":"right","baseline":"middle","fontSize":10.3,"fontWeight":600,"color":"#eef2f6"},"encoding":{"x":{"datum":134.4},"y":{"datum":224},"text":{"field":"region"}}},
        {"mark":{"type":"text","align":"right","baseline":"middle","fontSize":9.7,"color":"#98a4b5"},"encoding":{"x":{"datum":134.4},"y":{"datum":236.7},"text":{"field":"detail"}}}]},
       {"transform":[{"filter":"datum.region=='Latin America'"}],"layer":[
        {"mark":{"type":"text","align":"right","baseline":"middle","fontSize":10.3,"fontWeight":600,"color":"#eef2f6"},"encoding":{"x":{"datum":117.7},"y":{"datum":146},"text":{"field":"region"}}},
        {"mark":{"type":"text","align":"right","baseline":"middle","fontSize":9.7,"color":"#98a4b5"},"encoding":{"x":{"datum":117.7},"y":{"datum":158.3},"text":{"field":"detail"}}}]},
       {"transform":[{"filter":"datum.region=='Southeast Asia'"}],"layer":[
        {"mark":{"type":"text","align":"right","baseline":"middle","fontSize":10.3,"fontWeight":600,"color":"#eef2f6"},"encoding":{"x":{"datum":164.7},"y":{"datum":90.7},"text":{"field":"region"}}},
        {"mark":{"type":"text","align":"right","baseline":"middle","fontSize":9.7,"color":"#98a4b5"},"encoding":{"x":{"datum":164.7},"y":{"datum":103.3},"text":{"field":"detail"}}}]}
      ]},
     {"width":449.6,"height":316.7,"view":{"fill":"#1a2332","stroke":"#2b3a4d","cornerRadius":10},"title":{"text":"People Reached by Deployment Status","offset":-26.5,"dx":12},
      "data":{"values":[{"status":"Operational","people":18.8,"label":"18.8M"},{"status":"Completed","people":17.0,"label":"17.0M"},{"status":"Pilot","people":4.9,"label":"4.9M"},{"status":"Paused","people":1.3,"label":"1.3M"}]},
      "encoding":{"y":{"field":"status","type":"nominal","sort":null,"title":null,"scale":{"range":[46.7,295.7],"paddingInner":0.383,"paddingOuter":0},"axis":{"orient":"left","offset":-118.7,"domain":false,"ticks":false,"tickSize":0,"labelAlign":"left","labelPadding":107.4,"labelOffset":2,"labelFontSize":11.5,"labelColor":"#cfd6e0","labelBound":false,"labelOverlap":false,"grid":false}},"x":{"field":"people","type":"quantitative","axis":null,"scale":{"domain":[0,20],"range":[118.7,379.3],"nice":false}}},
      "layer":[{"mark":{"type":"bar","color":"#3ec8dc","cornerRadius":2}},{"mark":{"type":"text","align":"left","baseline":"middle","dx":6.5,"dy":1,"fontSize":9.5,"color":"#d5dce5"},"encoding":{"text":{"field":"label"}}}]}
    ]}
   ]}
  ]}
 ]}
]},
{"width":1600,"height":33,"view":{"fill":"#1e2a3a"},"title":{"text":"Source: NextGenTemplates.Com","anchor":"end","offset":-29,"dx":-20,"fontSize":14.1,"fontWeight":600,"color":"#ffffff"},"data":{"values":[{}]},"mark":{"type":"point","opacity":0,"size":0}}
]}
